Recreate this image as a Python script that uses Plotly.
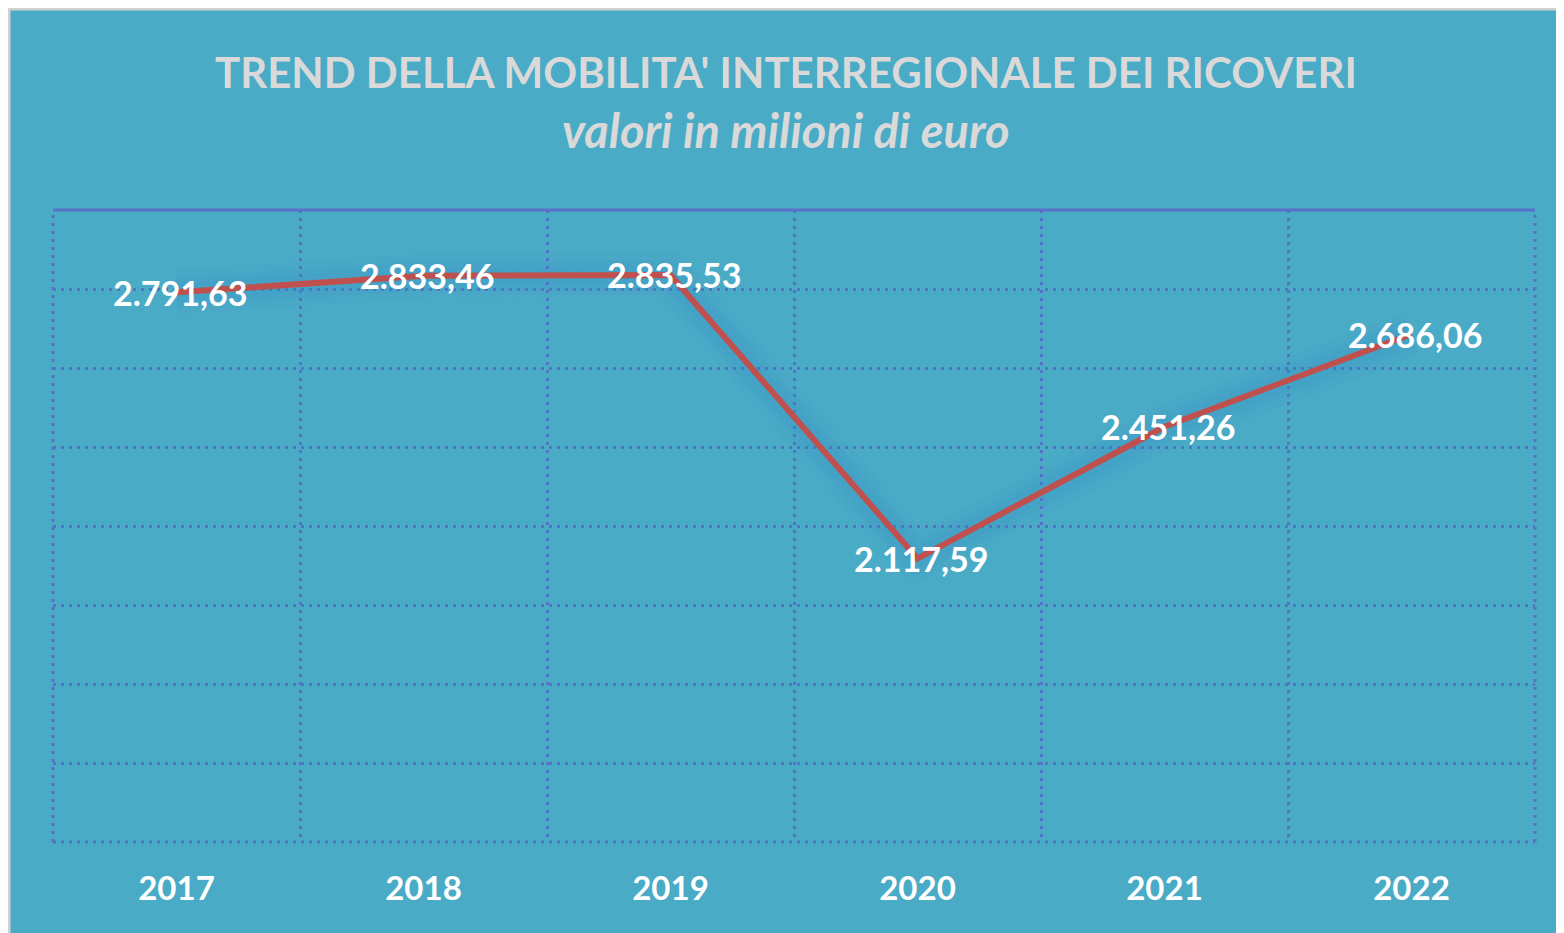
import plotly.graph_objects as go

years = ["2017", "2018", "2019", "2020", "2021", "2022"]
values = [2791.63, 2833.46, 2835.53, 2117.59, 2451.26, 2686.06]

title_text = "TREND DELLA MOBILITA' INTERREGIONALE DEI RICOVERI"
subtitle_text = "valori in milioni di euro"

y_min, y_max, y_step = 1400, 3000, 200


def it_fmt(v):
    s = f"{v:,.2f}"
    return s.replace(",", "X").replace(".", ",").replace("X", ".")


labels = [it_fmt(v) for v in values]

OFF = 8  # default body margin of the html page
W, H = 1564 - OFF, 933 - OFF
L, R, T, B = 53 - OFF, 29, 210 - OFF, 91
pw, ph = W - L - R, H - T - B


def px_x(p):
    return (p - OFF - L) / pw


def px_y(p):
    return (H - B - (p - OFF)) / ph


BG = "#4AABC6"
GRID = "#5870C6"
RED = "#C0504D"
GRAY = "#D9D9D9"
DOT = "3px,5px"

fig = go.Figure()

# soft glow behind the line
for w, a in [(44, 0.06), (30, 0.08), (18, 0.10)]:
    fig.add_trace(go.Scatter(x=years, y=values, mode="lines",
                             line=dict(color=f"rgba(45,135,205,{a})", width=w),
                             hoverinfo="skip", showlegend=False))
fig.add_trace(go.Scatter(x=years, y=values, mode="lines",
                         line=dict(color=RED, width=6),
                         showlegend=False))

for i, (v, lab) in enumerate(zip(values, labels)):
    fig.add_annotation(x=i, y=v, xref="x", yref="y", text=lab,
                       showarrow=False, xanchor="center", yanchor="middle",
                       xshift=3, yshift=0,
                       font=dict(family="Lato", size=34, color="white", weight="bold"))

fig.update_layout(
    width=W, height=H,
    margin=dict(l=L, r=R, t=T, b=B),
    paper_bgcolor="white",
    plot_bgcolor="rgba(0,0,0,0)",
    showlegend=False,
    xaxis=dict(type="category", tickson="boundaries", range=[-0.5, len(years) - 0.5],
               showgrid=True, gridcolor=GRID, gridwidth=3, griddash=DOT,
               showline=False, zeroline=False, ticks="",
               ticklabelstandoff=24,
               tickfont=dict(family="Lato", size=33, color="white", weight="bold")),
    yaxis=dict(range=[y_min, y_max], dtick=y_step, tick0=y_min,
               showgrid=True, gridcolor=GRID, gridwidth=3, griddash=DOT,
               showticklabels=False, zeroline=False, showline=False, ticks=""),
)

shapes = [
    # outer frame / background
    dict(type="rect", xref="paper", yref="paper",
         x0=px_x(9), x1=px_x(1580), y0=px_y(950), y1=px_y(9),
         fillcolor=BG, line=dict(color="#D0D0D0", width=3), layer="below"),
    # plot border: top solid
    dict(type="line", xref="paper", yref="paper", x0=0, x1=1, y0=1, y1=1,
         line=dict(color=GRID, width=3)),
    # left / right / bottom dotted
    dict(type="line", xref="paper", yref="paper", x0=0, x1=0, y0=0, y1=1,
         line=dict(color=GRID, width=3, dash=DOT)),
    dict(type="line", xref="paper", yref="paper", x0=1, x1=1, y0=0, y1=1,
         line=dict(color=GRID, width=3, dash=DOT)),
    dict(type="line", xref="paper", yref="paper", x0=0, x1=1, y0=0, y1=0,
         line=dict(color=GRID, width=3, dash=DOT)),
]
fig.update_layout(shapes=shapes)

fig.add_annotation(text=title_text, xref="paper", yref="paper",
                   x=px_x(786), y=px_y(72), xanchor="center", yanchor="middle",
                   showarrow=False,
                   font=dict(family="Lato", size=42, color=GRAY, weight="bold"))
fig.add_annotation(text=subtitle_text, xref="paper", yref="paper",
                   x=px_x(786), y=px_y(130), xanchor="center", yanchor="middle",
                   showarrow=False,
                   font=dict(family="Lato", size=47, color=GRAY, weight="bold", style="italic"))

fig.write_html("out.html")
